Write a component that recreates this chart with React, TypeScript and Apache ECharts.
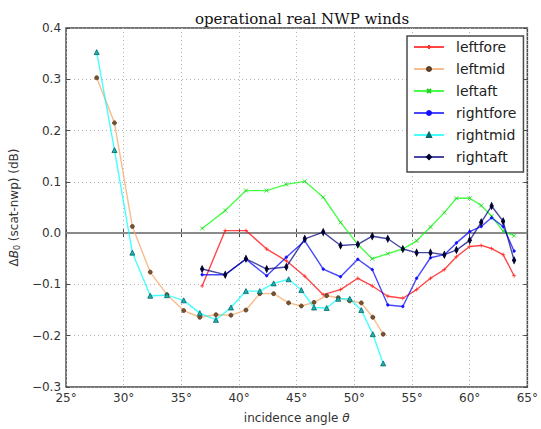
import React, { useEffect, useRef } from "react";
import * as echarts from "echarts";

// Incidence angles of the mid beams and of the fore/aft beams (degrees)
const midAngles = [27.66, 29.2, 30.75, 32.3, 33.75, 35.2, 36.6, 38.0, 39.3, 40.6, 41.8, 43.0, 44.3, 45.4, 46.5, 47.6, 48.6, 49.6, 50.6, 51.6, 52.5];
const foreAftAngles = [36.8, 38.8, 40.6, 42.4, 44.1, 45.7, 47.3, 48.8, 50.3, 51.55, 52.9, 54.2, 55.4, 56.6, 57.8, 58.85, 60.0, 61.0, 61.9, 62.9, 63.85];

// Bias ΔB0 (scat - nwp) in dB per beam
const leftfore = [-0.103, 0.005, 0.005, -0.031, -0.054, -0.084, -0.120, -0.110, -0.088, -0.103, -0.123, -0.127, -0.110, -0.088, -0.071, -0.046, -0.026, -0.024, -0.030, -0.042, -0.083];
const leftmid = [0.303, 0.215, 0.013, -0.076, -0.120, -0.151, -0.164, -0.159, -0.160, -0.150, -0.118, -0.118, -0.136, -0.142, -0.135, -0.122, -0.126, -0.132, -0.136, -0.164, -0.197];
const leftaft = [0.009, 0.044, 0.083, 0.083, 0.095, 0.101, 0.070, 0.021, -0.022, -0.050, -0.040, -0.031, -0.015, 0.012, 0.040, 0.068, 0.068, 0.054, 0.033, 0.004, -0.005];
const rightfore = [-0.081, -0.081, -0.051, -0.083, -0.047, -0.015, -0.070, -0.085, -0.051, -0.071, -0.140, -0.143, -0.088, -0.048, -0.042, -0.019, 0.003, 0.013, 0.030, 0.013, -0.035];
const rightmid = [0.353, 0.162, -0.038, -0.122, -0.121, -0.131, -0.156, -0.169, -0.145, -0.113, -0.113, -0.098, -0.090, -0.111, -0.145, -0.146, -0.128, -0.128, -0.150, -0.197, -0.254];
const rightaft = [-0.070, -0.081, -0.050, -0.070, -0.066, -0.011, 0.002, -0.024, -0.022, -0.006, -0.011, -0.031, -0.038, -0.038, -0.042, -0.033, -0.014, 0.021, 0.053, 0.023, -0.053];

const xTicks = [25, 30, 35, 40, 45, 50, 55, 60, 65];

const SANS = "DejaVu Sans";
const SERIF = "DejaVu Serif";

const pairs = (xs: number[], ys: number[]) => xs.map((x, i) => [x, ys[i]]);

const PLUS = "path://M0,5L10,5M5,0L5,10";
const CROSS = "path://M0,0L10,10M0,10L10,0";
const THIN_DIAMOND = "path://M5,0L8,10L5,20L2,10Z";

function makeSeries(
  name: string,
  data: number[][],
  color: string,
  symbol: string,
  symbolSize: number | number[],
  markerFill: string,
  markerEdge: string,
  extra: any = {}
) {
  return {
    name,
    type: "line",
    data,
    symbol,
    symbolSize,
    showSymbol: true,
    lineStyle: { color, width: 1.4, opacity: 0.72 },
    itemStyle: { color: markerFill, borderColor: markerEdge, borderWidth: 0.8 },
    emphasis: { disabled: true },
    z: 3,
    ...extra,
  };
}

export default function App() {
  const ref = useRef<HTMLDivElement>(null);

  useEffect(() => {
    if (!ref.current) return;
    const chart = echarts.init(ref.current, undefined, { renderer: "svg" });

    const gridLine = { show: true, lineStyle: { color: "#b0b0b0", type: [1, 3] as any, width: 1 } };

    chart.setOption({
      animation: false,
      backgroundColor: "#ffffff",
      title: {
        text: "operational real NWP winds",
        left: 297,
        top: 6,
        textAlign: "center",
        textStyle: { fontFamily: SERIF, fontSize: 15, fontWeight: "normal", color: "#111" },
      },
      grid: {
        left: 64,
        right: 10,
        top: 28,
        bottom: 41,
        show: true,
        borderColor: "#4a4a4a",
        borderWidth: 1.5,
        backgroundColor: "transparent",
      },
      legend: {
        orient: "vertical",
        left: 407,
        top: 36,
        padding: [3, 7, 7, 6],
        backgroundColor: "#ffffff",
        borderColor: "#4a4a4a",
        borderWidth: 1.5,
        borderRadius: 0,
        itemWidth: 30,
        itemHeight: 5,
        itemGap: 6,
        textStyle: { fontFamily: SANS, fontSize: 14, color: "#222", lineHeight: 16, padding: [0, 0, 0, 7] },
        data: ["leftfore", "leftmid", "leftaft", "rightfore", "rightmid", "rightaft"],
        z: 10,
      },
      xAxis: [
        {
          type: "value",
          min: 25,
          max: 65,
          interval: 5,
          name: "incidence angle {i|θ}",
          nameLocation: "middle",
          nameGap: 25,
          nameTextStyle: {
            fontFamily: SANS,
            fontSize: 12,
            color: "#333",
            rich: { i: { fontFamily: SANS, fontStyle: "italic", fontSize: 12, color: "#333" } },
          },
          axisLine: { show: false },
          axisTick: { show: true, inside: true, length: 4, lineStyle: { color: "#4a4a4a" } },
          axisLabel: {
            fontFamily: SANS,
            fontSize: 12,
            color: "#333",
            margin: 5,
            formatter: (v: number) => (xTicks.includes(v) ? `${v}°` : ""),
          },
          splitLine: gridLine,
        },
        {
          type: "value",
          position: "top",
          min: 25,
          max: 65,
          interval: 5,
          axisLine: { show: false },
          axisTick: { show: true, inside: true, length: 4, lineStyle: { color: "#4a4a4a" } },
          axisLabel: { show: false },
          splitLine: { show: false },
        },
      ],
      yAxis: [
        {
          type: "value",
          min: -0.3,
          max: 0.4,
          interval: 0.1,
          name: "Δ{b|B}{s|0} (scat-nwp) (dB)",
          nameLocation: "middle",
          nameGap: 42,
          nameTextStyle: {
            fontFamily: SANS,
            fontSize: 12,
            color: "#333",
            rich: {
              b: { fontFamily: SANS, fontStyle: "italic", fontSize: 12, color: "#333" },
              s: { fontFamily: SANS, fontSize: 8, color: "#333", padding: [6, 0, 0, 0] },
            },
          },
          axisLine: { show: false },
          axisTick: { show: true, inside: true, length: 4, lineStyle: { color: "#4a4a4a" } },
          axisLabel: {
            fontFamily: SANS,
            fontSize: 12,
            color: "#333",
            margin: 5,
            formatter: (v: number) => {
              const s = Math.abs(v).toFixed(1);
              return v < -1e-9 ? `\u2212${s}` : s;
            },
          },
          splitLine: gridLine,
        },
        {
          type: "value",
          position: "right",
          min: -0.3,
          max: 0.4,
          interval: 0.1,
          axisLine: { show: false },
          axisTick: { show: true, inside: true, length: 4, lineStyle: { color: "#4a4a4a" } },
          axisLabel: { show: false },
          splitLine: { show: false },
        },
      ],
      series: [
        makeSeries("leftfore", pairs(foreAftAngles, leftfore), "#ff0000", PLUS, 4, "#ff3030", "#ff3030", {
          markLine: {
            silent: true,
            symbol: "none",
            label: { show: false },
            lineStyle: { color: "#8a8a8a", width: 2, type: "solid" },
            data: [{ yAxis: 0 }],
            z: 2,
          },
        }),
        makeSeries("leftmid", pairs(midAngles, leftmid), "#f4a460", "circle", 4, "#7a5230", "#5a3a20"),
        makeSeries("leftaft", pairs(foreAftAngles, leftaft), "#00ff00", CROSS, 4, "#20d020", "#20d020"),
        makeSeries("rightfore", pairs(foreAftAngles, rightfore), "#0000ff", "circle", 2.5, "#1010ff", "#1010ff"),
        makeSeries("rightmid", pairs(midAngles, rightmid), "#00ffff", "triangle", 5, "#20b0b0", "#006868"),
        makeSeries("rightaft", pairs(foreAftAngles, rightaft), "#000080", THIN_DIAMOND, [3.5, 7], "#000030", "#000030"),
      ],
    });

    return () => chart.dispose();
  }, []);

  return (
    <div
      ref={ref}
      style={{ position: "fixed", left: 0, top: 0, width: 541, height: 429, background: "#fff" }}
    />
  );
}
